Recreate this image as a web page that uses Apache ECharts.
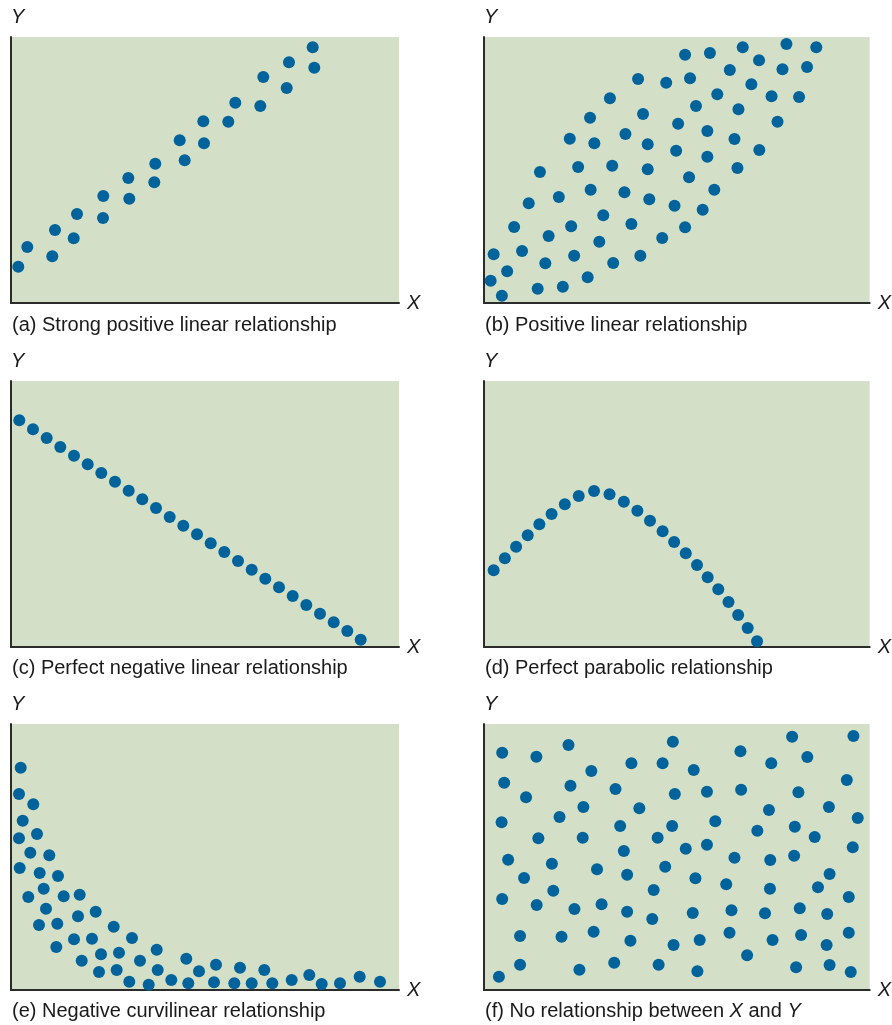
<!DOCTYPE html>
<html>
<head>
<meta charset="utf-8">
<script src="https://cdn.jsdelivr.net/npm/echarts@6/dist/echarts.min.js"></script>
<style>
  html, body { margin: 0; padding: 0; background: #fff; }
  #chart { width: 892px; height: 1025px; }
</style>
</head>
<body>
<div id="chart"></div>
<script>
// data, [x, y] in plot units (x 0..388, y 0..266)
const strongPositive = [
  [7.3, 36.3], [16.3, 56], [41.3, 46.7], [44, 73], [62.7, 64.7], [66, 89],
  [92, 85], [92.3, 107], [118.3, 104.3], [117.3, 125], [143.3, 120.7], [144.3, 139.3],
  [173.7, 142.7], [168.7, 162.7], [193, 159.7], [192.3, 181.7], [217.3, 181.3], [224.3, 200.3],
  [249.3, 197], [252.3, 226], [275.7, 215], [278, 240.7], [303.3, 235.3], [301.7, 255.7]
];

const positive = [
  [304.3, 259], [334.3, 255.7], [260.3, 255.7], [202.3, 248.3], [227.3, 250], [276.7, 242.7],
  [247.3, 233], [300.3, 233.7], [325, 236], [155, 224], [183.3, 220.3], [207.3, 224.7],
  [269, 218.7], [234.7, 208.7], [289.3, 206.7], [317, 206], [126.7, 204.7], [213.3, 197],
  [256, 193.7], [160, 189], [106.7, 185.3], [195.3, 179.3], [295.3, 181.3], [224.7, 172],
  [142.3, 169], [86.3, 164.3], [111, 159.7], [164.7, 158.7], [252, 164], [193.3, 152.3],
  [277, 153], [224.7, 146.3], [56.3, 131], [94.7, 136], [129, 137.3], [164.7, 133.7],
  [255, 135], [206.3, 125.7], [231.7, 113.3], [45, 99.7], [75.3, 106], [107.3, 113.3],
  [141.3, 110.7], [166.3, 103.7], [191.7, 97.3], [220, 93.3], [120, 87.7], [30.3, 76],
  [87.7, 76.7], [148.3, 79], [202.3, 75.7], [65, 67], [116, 61.3], [179.3, 65],
  [38.3, 52], [9.7, 48.7], [90.7, 47.3], [61.7, 39.7], [130, 40], [157.3, 47.3],
  [23.3, 31.7], [6.7, 22.3], [104.3, 25.7], [54, 14.3], [79.3, 16.3], [18, 7.3]
];

const perfectNegative = [
  [8.3, 226.7], [22, 217.7], [35.7, 209], [49.3, 200], [63, 191.3], [76.7, 182.7],
  [90.3, 174], [104, 165.3], [117.7, 156.3], [131.3, 147.7], [145, 139], [158.7, 130],
  [172.3, 121.3], [186, 112.7], [199.7, 103.7], [213.3, 95], [227, 86], [240.7, 77.3],
  [254.3, 68.3], [268, 59.7], [281.7, 51], [295.3, 42], [309, 33.3], [322.7, 24.7],
  [336.3, 16], [349.7, 7.3]
];

const parabolic = [
  [9.7, 76.7], [21, 88.7], [32.3, 100.3], [44, 111.7], [55.7, 122.7], [68, 133],
  [81.3, 142.7], [95.3, 151], [110.7, 156], [126.3, 152.7], [140.7, 145.3], [154.3, 136.3],
  [167, 126.3], [179.7, 115.7], [191.3, 105], [203, 93.7], [214.3, 82], [225, 69.7],
  [235.7, 57.7], [246, 45], [255.7, 32], [265.3, 19], [274.7, 5.7]
];

const negCurvilinear = [
  [9.7, 222.3], [8, 196], [22.3, 185.7], [11.7, 169.3], [8, 151.7], [26, 156],
  [19.3, 137.3], [38.3, 134.7], [8.7, 122], [28.7, 117], [47, 114], [32.7, 101.3],
  [17.3, 93], [52.7, 93.7], [68.7, 95.3], [35, 81.3], [67, 73.7], [84.7, 78.3],
  [28, 65], [46.3, 66.3], [102.7, 63.3], [45.3, 43], [63, 50.7], [81, 51.3],
  [121, 52], [70.7, 29.3], [90, 35.7], [108, 37.3], [145.7, 40.3], [129, 29.3],
  [88, 18], [105.7, 20], [146.7, 20], [175.3, 31.3], [205, 25.3], [229, 22.3],
  [253.3, 20], [188, 18.7], [118.3, 8.3], [137.7, 5.3], [160.3, 10], [177.3, 6.7],
  [203, 7.7], [223.3, 6.7], [240.7, 6.7], [261.3, 6.7], [280.7, 10], [298.3, 15],
  [310.7, 6], [329, 6.7], [348.7, 13.3], [369, 8.3]
];

const noRelation = [
  [18.3, 237.3], [52.7, 233.3], [85, 245], [190, 248.3], [258, 238.7], [310, 253.3],
  [371.7, 254], [148.3, 226.7], [179.7, 226.7], [211, 220], [289, 226.7], [325.3, 233],
  [108, 219], [20.3, 207.3], [87, 204.3], [132.3, 201], [192, 196], [224.3, 198.3],
  [258.7, 200.3], [316.3, 197.7], [365, 210], [42.3, 192.7], [100, 183], [156.3, 181.7],
  [286.7, 180], [347, 183], [376, 172], [17.7, 167.7], [76, 173], [137, 164],
  [189.3, 164], [232.7, 168.7], [275, 159.3], [312.7, 163.3], [332.7, 153], [54.7, 151.7],
  [99.3, 152.3], [174.7, 152.3], [203, 141.3], [224.3, 145.3], [140.7, 139], [371, 142.7],
  [24.3, 130.3], [68.3, 126.3], [113.7, 120.7], [144, 115.3], [182.3, 123.3], [252, 132.3],
  [288, 130], [312, 134.3], [40.3, 112], [212.7, 111.7], [243.7, 105.7], [347.7, 116],
  [69.7, 99.3], [170.7, 100], [287.7, 101.3], [336, 102.7], [18.3, 91], [53, 85],
  [91, 81], [118.3, 85.7], [144, 78.3], [169.3, 71], [210, 77], [249, 79.7],
  [282.7, 76.7], [317.7, 81.7], [345.3, 76], [367, 93], [36.3, 54], [78, 53.3],
  [110.3, 58.3], [147.3, 49.3], [190.7, 45], [217, 50], [247, 57.3], [290.3, 50],
  [319, 55], [344.7, 45], [367, 57.3], [36.3, 25.3], [96, 20.3], [131, 27.3],
  [175.7, 25.3], [214.7, 18.7], [264.7, 34.7], [314, 22.7], [347.7, 25], [369, 18],
  [15, 13.3]
];

const panelData = [strongPositive, positive, perfectNegative, parabolic, negCurvilinear, noRelation];

const captions = [
  '(a) Strong positive linear relationship',
  '(b) Positive linear relationship',
  '(c) Perfect negative linear relationship',
  '(d) Perfect parabolic relationship',
  '(e) Negative curvilinear relationship',
  '(f) No relationship between {i|X} and {i|Y}'
];

const xRange = [0, 388];
const yRange = [0, 266];

// layout
const colLeft = [11, 484];
const rowTop = [37, 381, 724];
const plotW = 388;
const plotH = 266;
const captionTop = [315, 658, 1001];

const FONT = '"Liberation Sans", Arial, sans-serif';
const dotColor = '#00639b';
const bgColor = '#d3dfc6';
const axisColor = '#2b2b2b';

const chart = echarts.init(document.getElementById('chart'));

const grids = [], xAxes = [], yAxes = [], series = [], titles = [];

panelData.forEach((pts, i) => {
  const col = i % 2;
  const row = Math.floor(i / 2);

  grids.push({
    left: colLeft[col],
    top: rowTop[row],
    width: plotW,
    height: plotH,
    show: true,
    backgroundColor: bgColor,
    borderWidth: 0,
    containLabel: false
  });

  xAxes.push({
    gridIndex: i,
    type: 'value',
    min: xRange[0],
    max: xRange[1],
    name: 'X',
    nameLocation: 'end',
    nameGap: 8,
    nameTextStyle: {
      fontFamily: FONT,
      fontStyle: 'italic',
      fontSize: 20,
      color: '#1a1a1a',
      verticalAlign: 'middle'
    },
    axisLine: { show: true, onZero: false, lineStyle: { color: axisColor, width: 2 } },
    axisTick: { show: false },
    axisLabel: { show: false },
    splitLine: { show: false }
  });

  yAxes.push({
    gridIndex: i,
    type: 'value',
    min: yRange[0],
    max: yRange[1],
    name: 'Y',
    nameLocation: 'end',
    nameGap: 10,
    nameTextStyle: {
      fontFamily: FONT,
      fontStyle: 'italic',
      fontSize: 20,
      color: '#1a1a1a',
      align: 'left',
      verticalAlign: 'bottom'
    },
    axisLine: { show: true, onZero: false, lineStyle: { color: axisColor, width: 2 } },
    axisTick: { show: false },
    axisLabel: { show: false },
    splitLine: { show: false }
  });

  series.push({
    type: 'scatter',
    xAxisIndex: i,
    yAxisIndex: i,
    data: pts,
    symbol: 'circle',
    symbolSize: 12,
    clip: false,
    itemStyle: { color: dotColor, opacity: 1 },
    emphasis: { disabled: true }
  });

  titles.push({
    text: captions[i],
    left: colLeft[col] + 1,
    top: captionTop[row],
    padding: 0,
    textStyle: {
      fontFamily: FONT,
      fontSize: 20,
      fontWeight: 'normal',
      color: '#1a1a1a',
      rich: {
        i: { fontFamily: FONT, fontSize: 20, fontStyle: 'italic', color: '#1a1a1a' }
      }
    }
  });
});

chart.setOption({
  animation: false,
  backgroundColor: '#ffffff',
  title: titles,
  grid: grids,
  xAxis: xAxes,
  yAxis: yAxes,
  series: series
});

window.addEventListener('resize', () => chart.resize());
</script>
</body>
</html>
